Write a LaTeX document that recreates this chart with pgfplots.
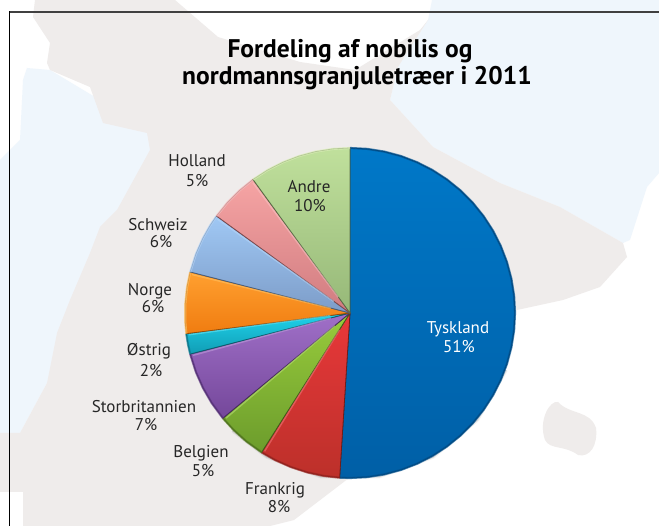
\documentclass[border=0pt]{standalone}
\usepackage{pgfplots}
\pgfplotsset{compat=1.18}
\usepgfplotslibrary{polar}
\usepackage{fontspec}
\setmainfont{PT Sans}

\definecolor{sea}{HTML}{EFF6FC}
\definecolor{land}{HTML}{EFECEB}
\definecolor{ink}{HTML}{262626}

\definecolor{tyskT}{HTML}{0078C8}\definecolor{tyskB}{HTML}{005FA6}\definecolor{tyskR}{HTML}{00508E}
\definecolor{fraT}{HTML}{E8383A}\definecolor{fraB}{HTML}{BC302A}\definecolor{fraR}{HTML}{9C2420}
\definecolor{belT}{HTML}{98CC3C}\definecolor{belB}{HTML}{6C9C2C}\definecolor{belR}{HTML}{557C20}
\definecolor{stoT}{HTML}{A070C8}\definecolor{stoB}{HTML}{74479A}\definecolor{stoR}{HTML}{5C3580}
\definecolor{ostT}{HTML}{20D4EC}\definecolor{ostB}{HTML}{109CB4}\definecolor{ostR}{HTML}{0C8096}
\definecolor{norT}{HTML}{FFA030}\definecolor{norB}{HTML}{F07C10}\definecolor{norR}{HTML}{FFC060}
\definecolor{schT}{HTML}{A0C8F4}\definecolor{schB}{HTML}{7C9CC8}\definecolor{schR}{HTML}{B4D4F8}
\definecolor{holT}{HTML}{F6A4A4}\definecolor{holB}{HTML}{D07C80}\definecolor{holR}{HTML}{F8C0C0}
\definecolor{andT}{HTML}{C0E09C}\definecolor{andB}{HTML}{96B878}\definecolor{andR}{HTML}{DCF0B8}

% one pie slice: start angle, end angle, arc points, top colour, bottom colour, rim colour
\newcommand{\slice}[6]{%
  \addplot[draw=#5!60!black, line width=0.8pt, line join=round, top color=#4, bottom color=#5]
    coordinates {(#1,0) #3 (#2,0)} -- cycle;
  \addplot[color=#6, line width=2.2pt, opacity=0.7, line cap=butt]
    coordinates {#3};
}
% light bevel along a straight slice edge
\newcommand{\bevel}[2]{\addplot[color=#2, line width=1.4pt, opacity=0.6] coordinates {(#1,0.12) (#1,0.985)};}
\newcommand{\lab}[4][ink]{\node[anchor=base, font=\fontsize{17}{19}\selectfont, text=#1] at (#2,#3) {#4};}

\begin{document}
\begin{tikzpicture}
\begin{scope}[x=1pt,y=-1pt]
\path[use as bounding box] (0,0) rectangle (659,526);
\fill[white] (0,0) rectangle (659,526);

% background map
\fill[sea] (27,68) -- (50,70) -- (150,130) -- (150,320) -- (47,383) -- (20,433) -- (0,433)
  -- (0,160) -- (20,140) -- (23,80) -- cycle;
\fill[sea] (432,0) -- (659,0) -- (659,173) -- (647,187) -- (630,240) -- (623,243) -- (560,207)
  -- (500,183) -- (433,147) -- (390,100) -- (398,67) -- (428,20) -- cycle;
\fill[land] (35,0) -- (175,0) -- (218,37) -- (300,62) -- (355,70) -- (420,30) -- (428,20)
  -- (398,67) -- (390,100) -- (433,147) -- (500,183) -- (560,207) -- (623,243) -- (627,257)
  -- (600,287) -- (563,300) -- (517,310) -- (400,440) -- (349,478) -- (294,520) -- (270,526)
  -- (23,526) -- (23,492) -- (0,492) -- (0,433) -- (20,433) -- (47,383) -- (57,333) -- (70,300)
  -- (90,253) -- (100,227) -- (117,210) -- (150,150) -- (147,133) -- (103,123) -- (90,87)
  -- (50,70) -- (47,63) -- (50,43) -- (33,17) -- cycle;
\fill[land] (545,440) .. controls (538,420) and (550,400) .. (558,402)
  .. controls (570,415) and (590,410) .. (596,428)
  .. controls (598,445) and (590,458) .. (578,455)
  .. controls (565,445) and (550,450) .. (545,440) -- cycle;

% frame
\draw[black!75, line width=1.1pt] (9.5,12) -- (659,12);
\draw[black, line width=1.1pt] (9.5,526) -- (9.5,11.5);
\end{scope}

\begin{polaraxis}[
  at={(350pt,-313pt)}, anchor=origin,
  scale only axis, width=330pt, height=330pt,
  hide axis, clip=false,
  xmin=0, xmax=360, ymin=0, ymax=1,
]
% soft shadow on the lower right rim
\addplot[color=black, line width=6pt, opacity=0.06] coordinates {(-20,1) (-40,1) (-60,1) (-80,1) (-100,1) (-120,1) (-135,1)};
\addplot[color=black, line width=4pt, opacity=0.10] coordinates {(-20,1) (-40,1) (-60,1) (-80,1) (-100,1) (-120,1) (-135,1)};

% shares 51 8 5 7 2 6 6 5 10 percent, clockwise from the top, as angles
\slice{90}{-93.6}{(90,1) (84,1) (78,1) (72,1) (66,1) (60,1) (54,1) (48,1) (42,1) (36,1) (30,1) (24,1) (18,1) (12,1) (6,1) (0,1) (-6,1) (-12,1) (-18,1) (-24,1) (-30,1) (-36,1) (-42,1) (-48,1) (-54,1) (-60,1) (-66,1) (-72,1) (-78,1) (-84,1) (-90,1) (-93.6,1)}{tyskT}{tyskB}{tyskR}
\slice{-93.6}{-122.4}{(-93.6,1) (-99,1) (-105,1) (-111,1) (-117,1) (-122.4,1)}{fraT}{fraB}{fraR}
\slice{-122.4}{-140.4}{(-122.4,1) (-129,1) (-135,1) (-140.4,1)}{belT}{belB}{belR}
\slice{-140.4}{-165.6}{(-140.4,1) (-147,1) (-153,1) (-159,1) (-165.6,1)}{stoT}{stoB}{stoR}
\slice{-165.6}{-172.8}{(-165.6,1) (-169,1) (-172.8,1)}{ostT}{ostB}{ostR}
\slice{-172.8}{-194.4}{(-172.8,1) (-177,1) (-183,1) (-189,1) (-194.4,1)}{norT}{norB}{norR}
\slice{-194.4}{-216}{(-194.4,1) (-201,1) (-207,1) (-212,1) (-216,1)}{schT}{schB}{schR}
\slice{-216}{-234}{(-216,1) (-222,1) (-228,1) (-234,1)}{holT}{holB}{holR}
\slice{-234}{-270}{(-234,1) (-240,1) (-246,1) (-252,1) (-258,1) (-264,1) (-270,1)}{andT}{andB}{andR}
\bevel{-121.7}{fraT!70!white}
\bevel{-139.7}{belT!70!white}
\bevel{-164.9}{stoT!70!white}
\bevel{-172.3}{ostT!70!white}
\bevel{-193.7}{norR}
\bevel{-215.3}{schR}
\bevel{-233.3}{holR}
\end{polaraxis}

\begin{scope}[x=1pt,y=-1pt]
% title
\node[anchor=base, font=\fontsize{25.5}{27}\selectfont\bfseries] at (350,58) {Fordeling af nobilis og};
\node[anchor=base, font=\fontsize{25.5}{27}\selectfont\bfseries] at (357,85) {nordmannsgranjuletræer i 2011};

% labels
\lab{197}{167}{Holland}\lab{197}{187}{5\%}
\lab{309}{193}{Andre}\lab{310}{212}{10\%}
\lab{158}{231}{Schweiz}\lab{161}{248}{6\%}
\lab{150}{296}{Norge}\lab{153}{313}{6\%}
\lab{149}{356}{Østrig}\lab{151}{377}{2\%}
\lab{144}{413}{Storbritannien}\lab{146}{431}{7\%}
\lab{201}{458}{Belgien}\lab{203}{477}{5\%}
\lab{275}{494}{Frankrig}\lab{279}{513}{8\%}
\lab[white]{458}{334}{Tyskland}\lab[white]{459}{353}{51\%}
\end{scope}
\end{tikzpicture}
\end{document}
